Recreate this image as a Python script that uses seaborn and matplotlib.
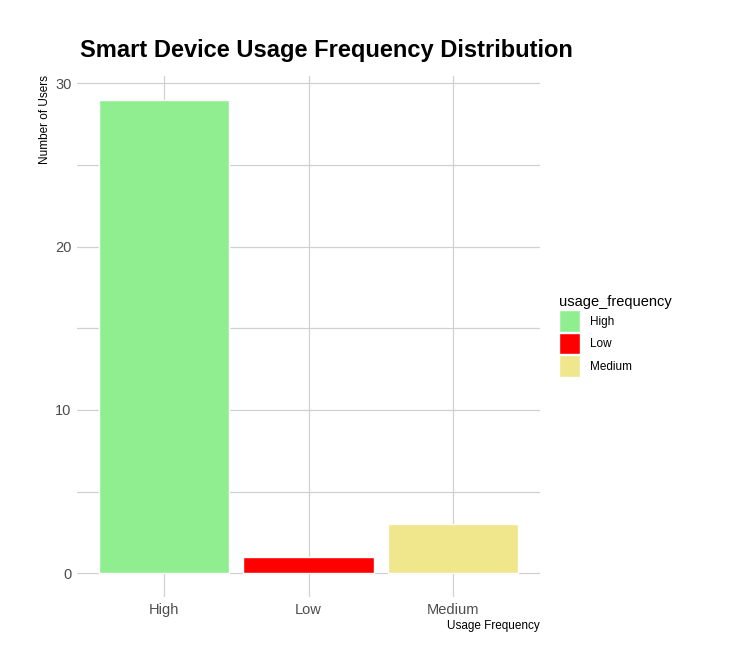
import pandas as pd
import matplotlib.pyplot as plt
import seaborn as sns

# counts per usage level
usage_levels = ["High", "Low", "Medium"]
user_counts = [29, 1, 3]
level_colors = ["#90EE90", "#FF0000", "#F0E68C"]

df = pd.DataFrame({"usage_frequency": usage_levels, "count": user_counts})

sns.set_theme(style="whitegrid")
plt.rcParams['font.family'] = ['Liberation Sans', 'DejaVu Sans']
plt.rcParams['text.color'] = 'black'

fig = plt.figure(figsize=(7.33, 6.72), dpi=100)
ax = fig.add_axes([77/733, 1 - 597/672, (540 - 77)/733, (597 - 76)/672])

sns.barplot(data=df, x="usage_frequency", y="count", hue="usage_frequency",
            palette=dict(zip(usage_levels, level_colors)), width=0.9,
            saturation=1, legend=True, ax=ax)

ax.set_xlim(-0.6, 2.6)
ax.set_ylim(-1.45, 30.45)
ax.set_yticks([0, 10, 20, 30])
ax.set_yticks([5, 15, 25], minor=True)
ax.grid(True, which="both", color="#d0d0d0", linewidth=0.9)
ax.set_axisbelow(True)
for s in ax.spines.values():
    s.set_visible(False)
ax.tick_params(axis="both", which="both", length=0, labelsize=10.5, labelcolor="#4d4d4d")
ax.tick_params(axis="x", pad=4)
ax.tick_params(axis="y", pad=4)
ax.set_xlabel("")
ax.set_ylabel("")

fig.text(80/733, 1 - 57/672, "Smart Device Usage Frequency Distribution",
         fontsize=17, fontweight="bold", ha="left", va="baseline", color="black")
fig.text(45/733, 1 - 75/672, "Number of Users", rotation=90,
         fontsize=8.5, ha="center", va="top", color="black")
fig.text(540/733, 1 - 626/672, "Usage Frequency", fontsize=8.5, ha="right", va="center", color="black")

sns.move_legend(ax, "center left", bbox_to_anchor=(550/733, 1 - 336/672), bbox_transform=fig.transFigure,
                title="usage_frequency", frameon=False, fontsize=8.5, title_fontsize=10.5,
                handlelength=1.75, handleheight=2.4, handletextpad=0.8,
                labelspacing=0.1, alignment="left", borderpad=0.3)
leg = ax.get_legend()
leg.get_title().set_color("black")
for t in leg.get_texts():
    t.set_color("black")

fig.savefig("out.png", dpi=100)
